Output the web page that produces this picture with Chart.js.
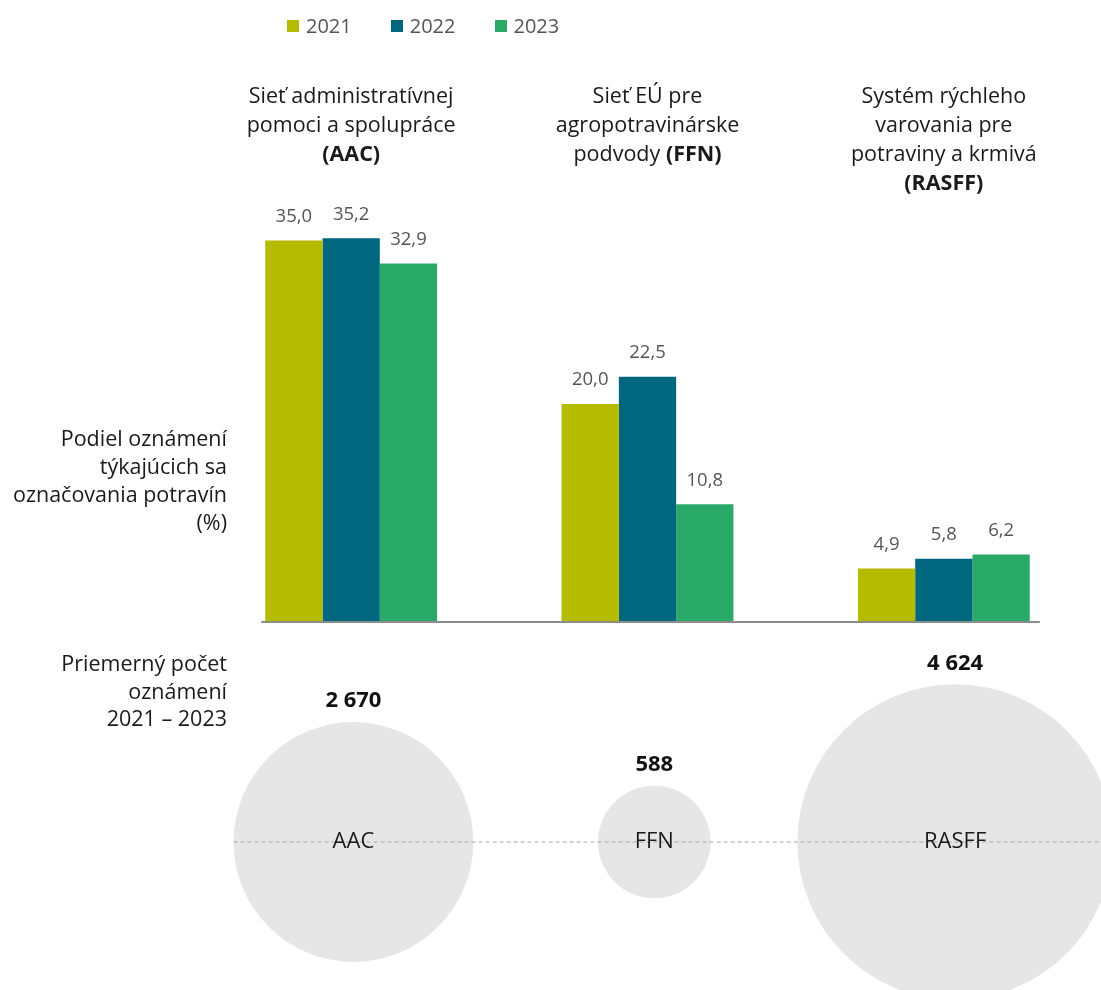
<!DOCTYPE html>
<html>
<head>
<meta charset="utf-8">
<script src="https://cdn.jsdelivr.net/npm/chart.js@4.4.1/dist/chart.umd.min.js"></script>
<style>
  html, body { margin: 0; padding: 0; background: #fff; }
  body { width: 1101px; height: 990px; position: relative; overflow: hidden; font-family: "Open Sans", "Noto Sans", sans-serif; }
  canvas { position: absolute; left: 0; top: 0; }
  .txt { position: absolute; color: #1a1a1a; font-size: 21.5px; line-height: 29px; white-space: nowrap; }
  .ctr { transform: translateX(-50%); text-align: center; }
  .rgt { text-align: right; }
  .legend { position: absolute; top: 12px; left: 287px; font-size: 20px; line-height: 28px; color: #555; display: flex; align-items: center; }
  .legend span.sw { display: inline-block; width: 12px; height: 12px; margin-right: 7px; }
  .legend span.it { display: inline-flex; align-items: center; }
</style>
</head>
<body>
<canvas id="bubbles" width="1101" height="990"></canvas>
<canvas id="bars" width="1101" height="640"></canvas>
<div class="legend" id="legend"></div>
<div id="titles"></div>
<div class="txt rgt" style="right:874px; top:424px; line-height:28px;">Podiel oznámení<br>týkajúcich sa<br>označovania potravín<br>(%)</div>
<div class="txt rgt" style="right:874px; top:649px; line-height:27.5px;">Priemerný počet<br>oznámení<br>2021 – 2023</div>
<script>
const categories = ["AAC", "FFN", "RASFF"];
const categoryTitles = [
  ["Sieť administratívnej", "pomoci a spolupráce", "<b>(AAC)</b>"],
  ["Sieť EÚ pre", "agropotravinárske", "podvody <b>(FFN)</b>"],
  ["Systém rýchleho", "varovania pre", "potraviny a krmivá", "<b>(RASFF)</b>"]
];
const years = ["2021", "2022", "2023"];
const values2021 = [35.0, 20.0, 4.9];
const values2022 = [35.2, 22.5, 5.8];
const values2023 = [32.9, 10.8, 6.2];
const avgNotifications = [2670, 588, 4624];
const colors = ["#b5bb00", "#00677f", "#2aaa69"];

const legendEl = document.getElementById('legend');
years.forEach((y, i) => {
  const it = document.createElement('span');
  it.className = 'it';
  it.style.marginRight = i < years.length - 1 ? '39px' : '0';
  it.innerHTML = '<span class="sw" style="background:' + colors[i] + '"></span>' + y;
  legendEl.appendChild(it);
});

const fmtDec = v => v.toFixed(1).replace('.', ',');
const fmtInt = v => String(v).replace(/\B(?=(\d{3})+(?!\d))/g, ' ');

const barLabels = {
  id: 'barLabels',
  afterDatasetsDraw(chart) {
    const ctx = chart.ctx;
    ctx.save();
    ctx.font = '18.5px "Open Sans", sans-serif';
    ctx.fillStyle = '#555';
    ctx.textAlign = 'center';
    ctx.textBaseline = 'middle';
    chart.data.datasets.forEach((ds, di) => {
      chart.getDatasetMeta(di).data.forEach((el, i) => {
        ctx.fillText(fmtDec(ds.data[i]), el.x, el.y - 24);
      });
    });
    ctx.restore();
  },
  afterDraw(chart) {
    const ctx = chart.ctx;
    const y = chart.scales.y.getPixelForValue(0);
    const m0 = chart.getDatasetMeta(0).data[0];
    const mL = chart.getDatasetMeta(2).data[2];
    ctx.save();
    ctx.strokeStyle = '#8c8c8c';
    ctx.lineWidth = 2;
    ctx.beginPath();
    ctx.moveTo(m0.x - m0.width / 2 - 4, y);
    ctx.lineTo(mL.x + mL.width / 2 + 10, y);
    ctx.stroke();
    ctx.restore();

    const titles = document.getElementById('titles');
    if (!titles.childElementCount) {
      categoryTitles.forEach((lines, i) => {
        const d = document.createElement('div');
        d.className = 'txt ctr';
        d.style.left = chart.scales.x.getPixelForValue(i) + 'px';
        d.style.top = '80px';
        d.innerHTML = lines.join('<br>');
        titles.appendChild(d);
      });
    }
  }
};

new Chart(document.getElementById('bars'), {
  type: 'bar',
  data: {
    labels: categories,
    datasets: years.map((y, i) => ({
      label: y,
      data: [values2021, values2022, values2023][i],
      backgroundColor: colors[i],
      borderWidth: 0,
      categoryPercentage: 0.58,
      barPercentage: 1.0
    }))
  },
  options: {
    responsive: false,
    animation: false,
    events: [],
    layout: { padding: { left: 203, right: 9, top: 186, bottom: 18 } },
    plugins: { legend: { display: false }, tooltip: { enabled: false } },
    scales: {
      x: { display: false },
      y: { display: false, min: 0, max: 40 }
    }
  },
  plugins: [barLabels]
});

const bubbleK = 2.32;
const bubbleLabels = {
  id: 'bubbleLabels',
  afterDatasetsDraw(chart) {
    const ctx = chart.ctx;
    const meta = chart.getDatasetMeta(0);
    const first = meta.data[0];
    const r0 = bubbleK * Math.sqrt(avgNotifications[0]);
    ctx.save();
    ctx.strokeStyle = '#a8a8a8';
    ctx.lineWidth = 1.2;
    ctx.setLineDash([4, 3]);
    ctx.beginPath();
    ctx.moveTo(first.x - r0, first.y);
    ctx.lineTo(chart.width, first.y);
    ctx.stroke();
    ctx.setLineDash([]);
    ctx.textAlign = 'center';
    ctx.textBaseline = 'middle';
    meta.data.forEach((el, i) => {
      const r = bubbleK * Math.sqrt(avgNotifications[i]);
      ctx.fillStyle = '#1a1a1a';
      ctx.font = '22px "Open Sans", sans-serif';
      ctx.fillText(categories[i], el.x, el.y);
      ctx.fillStyle = '#111';
      ctx.font = 'bold 22px "Open Sans", sans-serif';
      ctx.fillText(fmtInt(avgNotifications[i]), el.x, el.y - r - 21);
    });
    ctx.restore();
  }
};

new Chart(document.getElementById('bubbles'), {
  type: 'bubble',
  data: {
    datasets: [{
      data: avgNotifications.map((v, i) => ({ x: i, y: 0, v: v })),
      backgroundColor: '#e6e6e6',
      borderWidth: 0,
      hoverRadius: 0,
      radius: ctx => bubbleK * Math.sqrt(ctx.raw.v),
      clip: false
    }]
  },
  options: {
    responsive: false,
    animation: false,
    events: [],
    layout: { autoPadding: false, padding: { left: 203, right: 9, top: 694, bottom: 0 } },
    plugins: { legend: { display: false }, tooltip: { enabled: false } },
    scales: {
      x: { type: 'linear', display: false, min: -0.5, max: 2.455 },
      y: { display: false, min: -1, max: 1 }
    }
  },
  plugins: [bubbleLabels]
});
</script>
</body>
</html>
